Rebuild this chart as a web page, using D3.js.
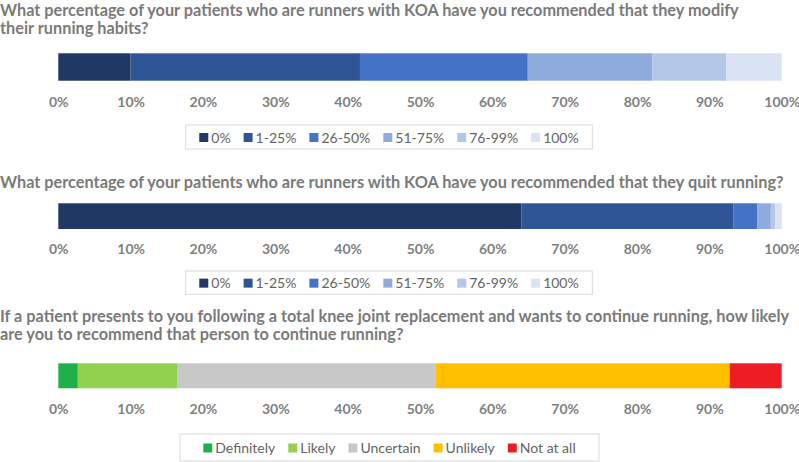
<!DOCTYPE html>
<html>
<head>
<meta charset="utf-8">
<script src="https://cdn.jsdelivr.net/npm/d3@7"></script>
<style>
  body { margin: 0; background: #fff; }
  svg { display: block; }
  .title { font-family: Lato, "Open Sans", sans-serif; font-weight: 700; font-size: 16.3px; fill: #7a7a7a; }
  .tick text { font-family: Lato, "Open Sans", sans-serif; font-weight: 700; font-size: 14px; fill: #808080; }
  .legend text { font-family: Lato, "Open Sans", sans-serif; font-size: 14px; fill: #646464; }
</style>
</head>
<body>
<div id="chart"></div>
<script>
// categories and values (percent of respondents)
let habit_cats = ["0%", "1-25%", "26-50%", "51-75%", "76-99%", "100%"];
let habit_colors = ["#203864", "#2f5597", "#4472c4", "#8faadc", "#b4c7e7", "#dae3f3"];
let modify_vals = [10.0, 31.7, 23.2, 17.2, 10.2, 7.7];
let quit_vals = [64.0, 29.3, 3.3, 1.9, 0.6, 0.9];

let likely_cats = ["Definitely", "Likely", "Uncertain", "Unlikely", "Not at all"];
let likely_colors = ["#1fb04c", "#92d050", "#c8c8c8", "#ffc000", "#ee1c25"];
let likely_vals = [2.7, 13.8, 35.7, 40.6, 7.2];

let tick_vals = [0, 10, 20, 30, 40, 50, 60, 70, 80, 90, 100];

let title1 = ["What percentage of your patients who are runners with KOA have you recommended that they modify", "their running habits?"];
let title2 = ["What percentage of your patients who are runners with KOA have you recommended that they quit running?"];
let title3 = ["If a patient presents to you following a total knee joint replacement and wants to continue running, how likely", "are you to recommend that person to continue running?"];

let chart_width = 799;
let chart_height = 462;

let svg = d3.select("#chart").append("svg")
  .attr("width", chart_width)
  .attr("height", chart_height);

let x = d3.scaleLinear().domain([0, 100]).range([58.3, 781.7]);

// one panel = title + stacked bar + axis + legend
let panels = [
  { title: title1, titleY: [15.5, 33.5], vals: modify_vals, cats: habit_cats, colors: habit_colors,
    barY: 53.3, barH: 27.4, axisY: 107, legend: [185.7, 125, 592.3, 149] },
  { title: title2, titleY: [188], vals: quit_vals, cats: habit_cats, colors: habit_colors,
    barY: 203.3, barH: 25.7, axisY: 254, legend: [185.7, 271, 592.3, 294.3] },
  { title: title3, titleY: [321.7, 340], vals: likely_vals, cats: likely_cats, colors: likely_colors,
    barY: 363.3, barH: 25, axisY: 414, legend: [180, 434, 599, 461] }
];

panels.forEach(function (p) {
  let g = svg.append("g");

  g.selectAll("text.title")
    .data(p.title)
    .enter()
    .append("text")
    .attr("class", "title")
    .attr("x", 0)
    .attr("y", function (d, i) { return p.titleY[i]; })
    .text(function (d) { return d; });

  // cumulative start/end of each segment
  let acc = 0;
  let segs = p.vals.map(function (v, i) {
    let s = { start: acc, end: acc + v, color: p.colors[i] };
    acc += v;
    return s;
  });

  g.selectAll("rect.seg")
    .data(segs)
    .enter()
    .append("rect")
    .attr("class", "seg")
    .attr("x", function (d) { return x(d.start); })
    .attr("width", function (d) { return x(d.end) - x(d.start); })
    .attr("y", p.barY)
    .attr("height", p.barH)
    .attr("fill", function (d) { return d.color; });

  let axis = d3.axisBottom(x)
    .tickValues(tick_vals)
    .tickSize(0)
    .tickPadding(0)
    .tickFormat(function (d) { return d + "%"; });

  let ax = g.append("g")
    .attr("transform", "translate(0," + p.axisY + ")")
    .call(axis);
  ax.select(".domain").remove();
  ax.selectAll("text").attr("dy", 0).attr("y", 0);

  // legend box
  let lb = p.legend;
  let lg = g.append("g").attr("class", "legend");
  lg.append("rect")
    .attr("x", lb[0]).attr("y", lb[1])
    .attr("width", lb[2] - lb[0]).attr("height", lb[3] - lb[1])
    .attr("fill", "#fff")
    .attr("stroke", "#d9d9d9")
    .attr("stroke-width", 1);

  let items = lg.append("g");
  let cx = 0;
  let midY = (lb[1] + lb[3]) / 2;
  p.cats.forEach(function (c, i) {
    let it = items.append("g");
    it.append("rect")
      .attr("x", cx).attr("y", midY - 4)
      .attr("width", 9).attr("height", 9)
      .attr("fill", p.colors[i]);
    let t = it.append("text")
      .attr("x", cx + 12)
      .attr("y", midY + 5.5)
      .text(c);
    cx += 12 + t.node().getComputedTextLength() + 13;
  });
  let total = cx - 13;
  items.attr("transform", "translate(" + ((lb[0] + lb[2]) / 2 - total / 2) + ",0)");
});
</script>
</body>
</html>
